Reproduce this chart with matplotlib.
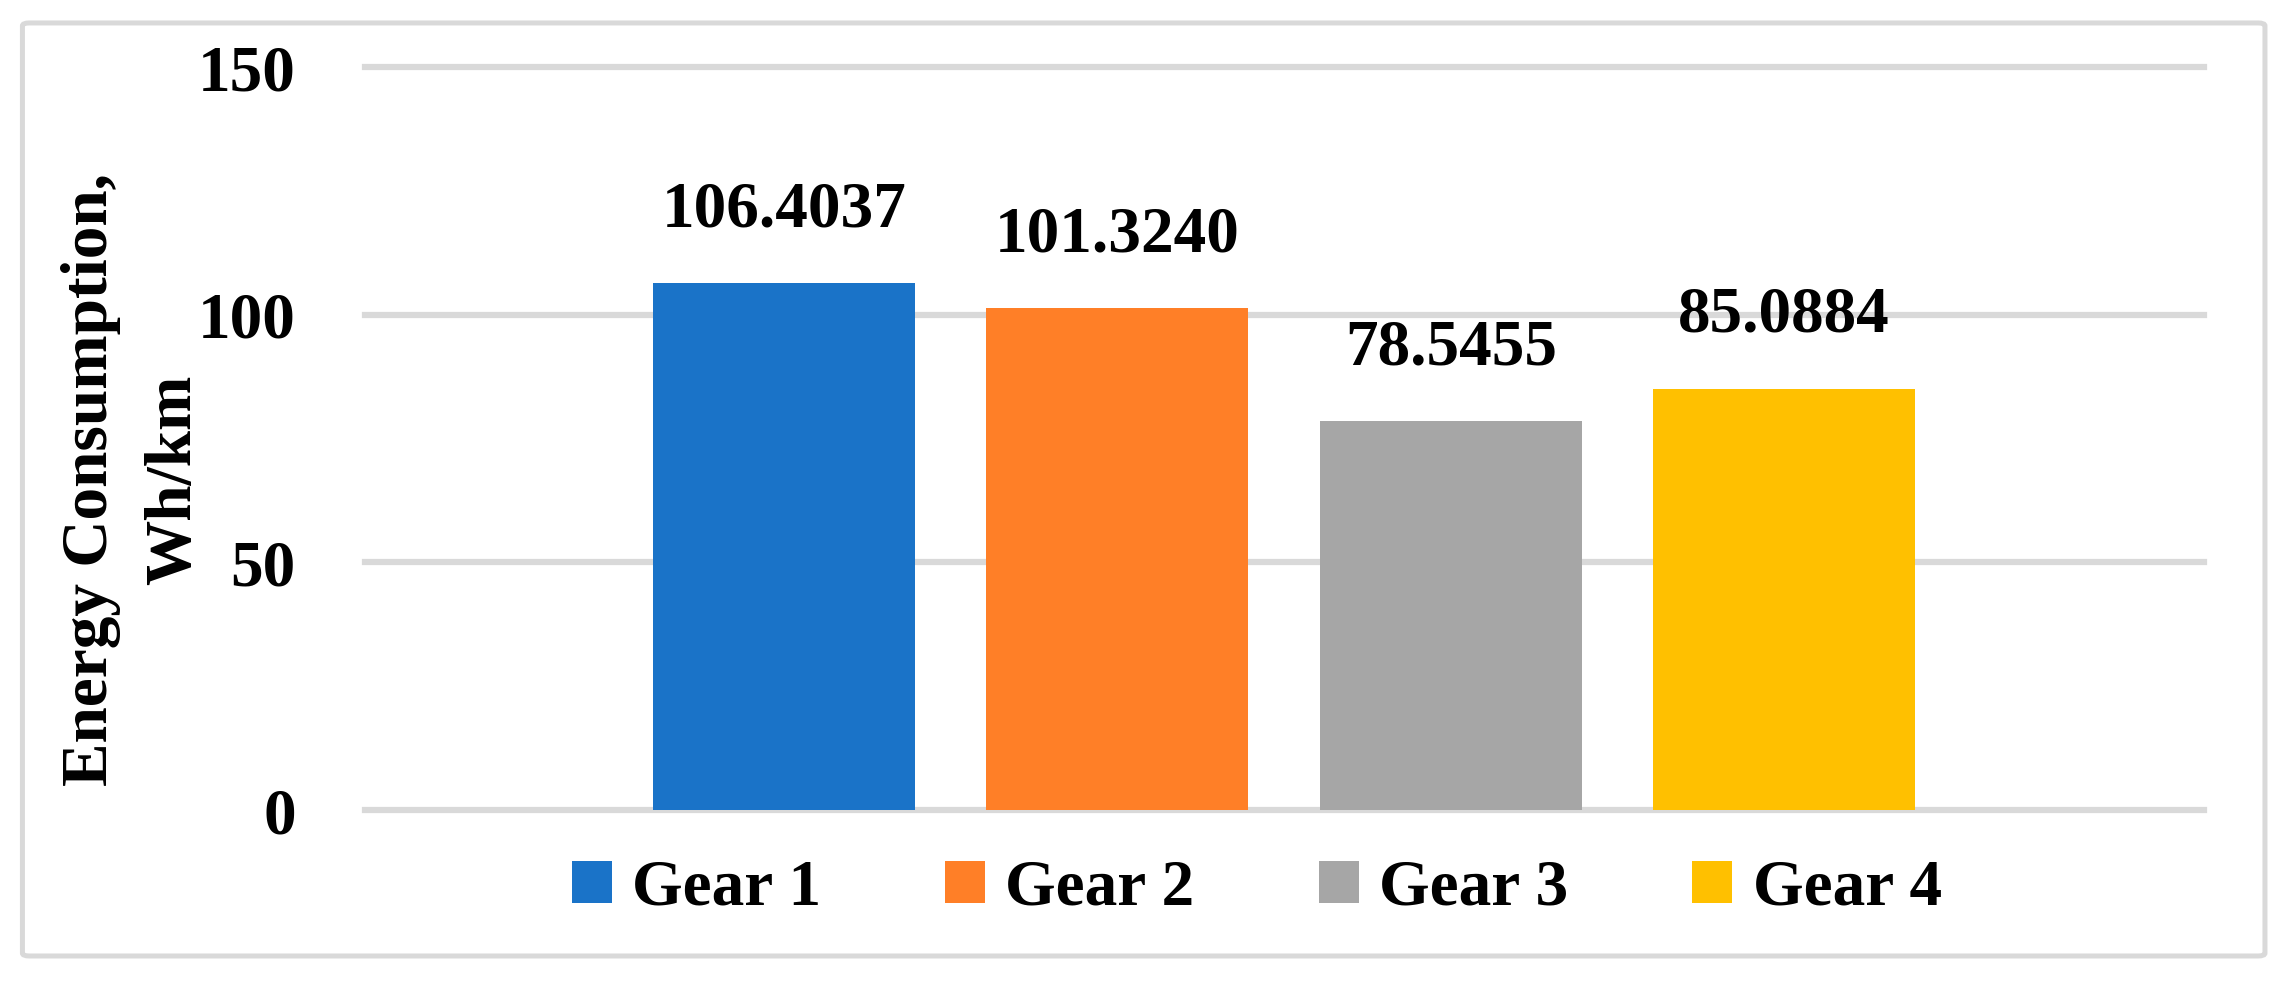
import matplotlib
matplotlib.use('Agg')
from matplotlib import pyplot as plt
from matplotlib.patches import FancyBboxPatch

gears = ['Gear 1', 'Gear 2', 'Gear 3', 'Gear 4']
energy = [106.4037, 101.3240, 78.5455, 85.0884]
colors = ['#1A73C8', '#FF7F27', '#A6A6A6', '#FFC000']
y_ticks = [0, 50, 100, 150]

plt.rcParams['font.family'] = ['Liberation Serif', 'DejaVu Serif']
plt.rcParams['font.weight'] = 'bold'
fs = 47

fig = plt.figure(figsize=(22.89, 9.81), dpi=100)
ax = fig.add_axes([0.1595, 0.1743, 0.8034, 0.7574])

# light grey gridlines behind the bars
for t in y_ticks:
    ax.axhline(t, color='#D9D9D9', lw=4.5, zorder=1, clip_on=False)

x = list(range(len(gears)))
bars = ax.bar(x, energy, width=0.786, color=colors, zorder=2, label=gears)

for xi, v in zip(x, energy):
    ax.annotate(f'{v:.4f}', (xi, v), xytext=(0, 41), textcoords='offset points',
                ha='center', va='baseline', fontsize=fs, fontweight='bold', zorder=3)

ax.set_xlim(-1.257, 4.26)
ax.set_ylim(0, 150)
ax.set_yticks(y_ticks)
ax.set_xticks([])
ax.tick_params(axis='y', length=0, pad=50, labelsize=fs)
for lbl in ax.get_yticklabels():
    lbl.set_fontweight('bold')
for s in ax.spines.values():
    s.set_visible(False)

fig.text(0.058, 0.511, 'Energy Consumption,\nWh/km', rotation=90, ha='center', va='center',
         fontsize=fs, fontweight='bold', linespacing=1.5)

fig.legend(bars, gears, loc='center', bbox_to_anchor=(0.549, 0.094), ncol=4, frameon=False,
           prop={'size': fs, 'weight': 'bold'}, handlelength=0.615, handleheight=0.615,
           handletextpad=0.31, columnspacing=1.9)

# outer chart border
border = FancyBboxPatch((0.0098, 0.0255), 0.9797, 0.9511, boxstyle='round,pad=0,rounding_size=0.003',
                        transform=fig.transFigure, fill=False, edgecolor='#D9D9D9', lw=3.6)
fig.patches.append(border)

plt.savefig('out.png', dpi=100)
